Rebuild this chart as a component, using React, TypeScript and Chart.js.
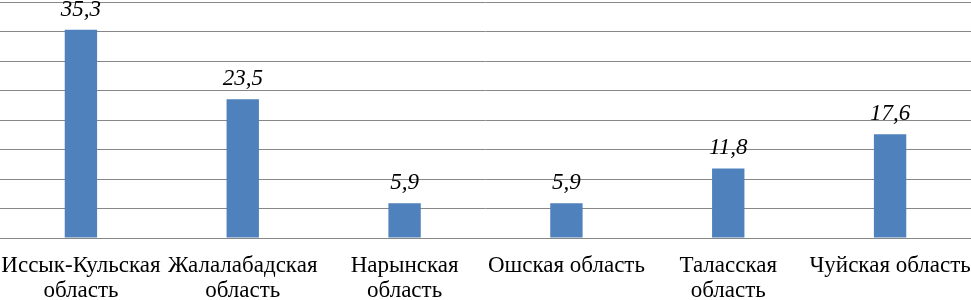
import React, { useEffect, useRef } from "react";
import { Chart, registerables } from "chart.js";

Chart.register(...registerables);

const categories: (string | string[])[] = [
  ["Иссык-Кульская", "область"],
  ["Жалалабадская", "область"],
  ["Нарынская", "область"],
  "Ошская область",
  ["Таласская", "область"],
  "Чуйская область",
];
const values: number[] = [35.3, 23.5, 5.9, 5.9, 11.8, 17.6];
const valueLabels: string[] = ["35,3", "23,5", "5,9", "5,9", "11,8", "17,6"];
const yMin = 0;
const yMax = 40;
const yStep = 5;

const SERIF = '"Liberation Serif", "Times New Roman", serif';

const dataLabelPlugin = {
  id: "dataLabels",
  afterDatasetsDraw(chart: any) {
    const ctx = chart.ctx;
    const meta = chart.getDatasetMeta(0);
    ctx.save();
    ctx.font = `italic 23px ${SERIF}`;
    ctx.fillStyle = "#000";
    ctx.textAlign = "center";
    ctx.textBaseline = "alphabetic";
    meta.data.forEach((bar: any, i: number) => {
      ctx.fillText(valueLabels[i], bar.x, bar.y - 14);
    });
    ctx.restore();
  },
};

export default function App() {
  const ref = useRef<HTMLCanvasElement>(null);
  useEffect(() => {
    document.body.style.margin = "0";
    const chart = new Chart(ref.current!, {
      type: "bar",
      data: {
        labels: categories,
        datasets: [
          {
            data: values,
            backgroundColor: "#4F81BD",
            borderWidth: 0,
            categoryPercentage: 1,
            barPercentage: 0.2,
          },
        ],
      },
      options: {
        animation: false,
        responsive: false,
        maintainAspectRatio: false,
        layout: { padding: { top: 2, left: 0, right: 0, bottom: 0 } },
        plugins: {
          legend: { display: false },
          tooltip: { enabled: false },
        },
        scales: {
          x: {
            grid: { display: false, drawTicks: false },
            border: { display: true, color: "#878787", width: 1 },
            ticks: {
              color: "#000",
              font: { family: SERIF, size: 23, lineHeight: 1.1 },
              padding: 15,
              maxRotation: 0,
              minRotation: 0,
              autoSkip: false,
            },
            afterFit: (scale: any) => {
              scale.height = 62;
              scale.paddingLeft = 0;
              scale.paddingRight = 0;
            },
          },
          y: {
            min: yMin,
            max: yMax,
            grid: { color: "#878787", lineWidth: 1, drawTicks: false },
            border: { display: false },
            ticks: { display: false, stepSize: yStep },
          },
        },
      },
      plugins: [dataLabelPlugin],
    });
    return () => chart.destroy();
  }, []);
  return (
    <div style={{ position: "absolute", left: 0, top: 0, width: 971, height: 300 }}>
      <canvas ref={ref} width={971} height={300} style={{ display: "block" }} />
    </div>
  );
}
